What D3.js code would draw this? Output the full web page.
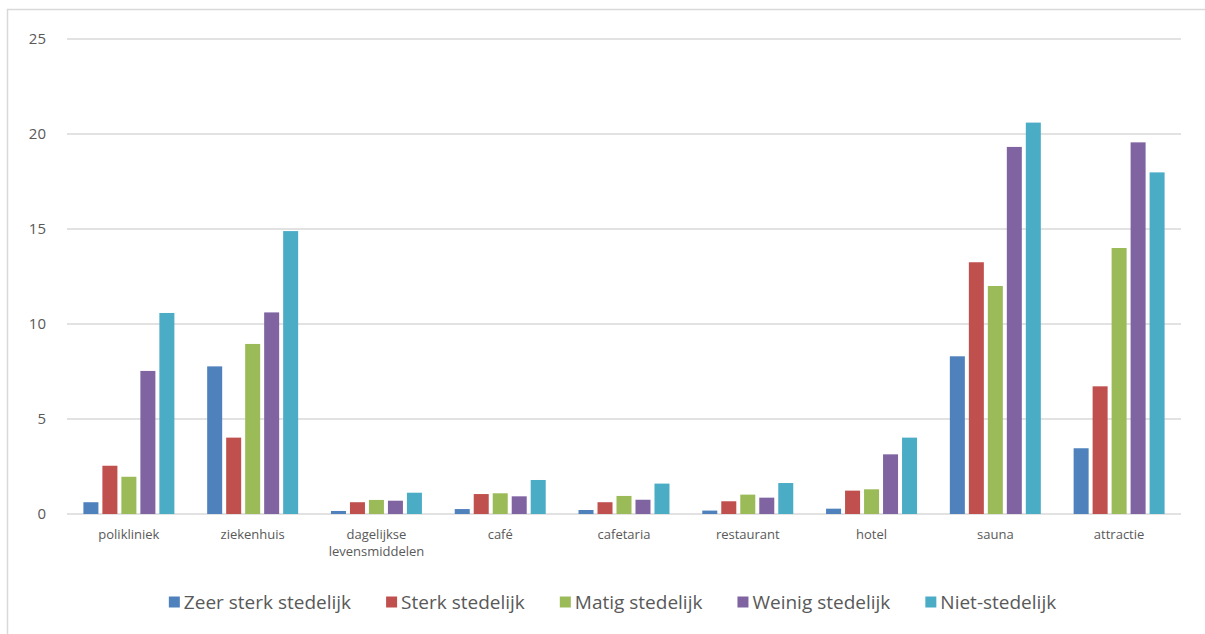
<!DOCTYPE html>
<html>
<head>
<meta charset="utf-8">
<script src="https://cdn.jsdelivr.net/npm/d3@7"></script>
<style>
  body { margin: 0; background: #fff; }
  svg { display: block; }
</style>
</head>
<body>
<svg id="chart" width="1205" height="634"></svg>
<script>
// categories and series
var categories = ["polikliniek", "ziekenhuis", "dagelijkse levensmiddelen", "café", "cafetaria", "restaurant", "hotel", "sauna", "attractie"];
var seriesNames = ["Zeer sterk stedelijk", "Sterk stedelijk", "Matig stedelijk", "Weinig stedelijk", "Niet-stedelijk"];
var zeerSterk = [0.62, 7.77, 0.16, 0.26, 0.21, 0.18, 0.28, 8.3, 3.46];
var sterk     = [2.54, 4.02, 0.62, 1.05, 0.62, 0.67, 1.23, 13.25, 6.72];
var matig     = [1.96, 8.95, 0.74, 1.09, 0.95, 1.02, 1.3, 12.0, 14.0];
var weinig    = [7.53, 10.61, 0.7, 0.93, 0.75, 0.86, 3.14, 19.32, 19.56];
var niet      = [10.58, 14.89, 1.12, 1.79, 1.6, 1.63, 4.02, 20.6, 17.98];
var yTicks = [0, 5, 10, 15, 20, 25];
var colors = ["#4F81BD", "#C0504D", "#9BBB59", "#8064A2", "#4BACC6"];

var values = [zeerSterk, sterk, matig, weinig, niet];

var svg = d3.select("#chart");
var plotLeft = 67, plotRight = 1181, plotTop = 39, plotBottom = 514;

// outer chart frame (runs off the right and bottom edge like the reference)
svg.append("rect")
   .attr("x", 7.5).attr("y", 9.5)
   .attr("width", 1220).attr("height", 650)
   .attr("fill", "none")
   .attr("stroke", "#d9d9d9")
   .attr("stroke-width", 1.5);

var x0 = d3.scaleBand()
           .domain(categories)
           .range([plotLeft, plotRight])
           .paddingInner(0.265)
           .paddingOuter(0.1325);

var x1 = d3.scaleBand()
           .domain(d3.range(seriesNames.length))
           .range([0, x0.bandwidth()])
           .paddingInner(0.21);

var y = d3.scaleLinear().domain([0, 25]).range([plotBottom, plotTop]);

// gridlines
svg.append("g").selectAll("line")
   .data(yTicks)
   .enter().append("line")
   .attr("x1", plotLeft).attr("x2", plotRight)
   .attr("y1", function(d){ return y(d); })
   .attr("y2", function(d){ return y(d); })
   .attr("stroke", "#d9d9d9")
   .attr("stroke-width", 1.3);

// y tick labels
svg.append("g").selectAll("text")
   .data(yTicks)
   .enter().append("text")
   .attr("x", 46)
   .attr("y", function(d){ return y(d); })
   .attr("dy", "0.35em")
   .attr("text-anchor", "end")
   .attr("font-family", "'Open Sans', sans-serif")
   .attr("font-size", "15px")
   .attr("fill", "#595959")
   .text(function(d){ return d; });

// bars
var groups = svg.append("g").selectAll("g")
   .data(categories)
   .enter().append("g")
   .attr("transform", function(d){ return "translate(" + x0(d) + ",0)"; });

groups.selectAll("rect")
   .data(function(d, i){ return values.map(function(s, k){ return {k: k, v: s[i]}; }); })
   .enter().append("rect")
   .attr("x", function(d){ return x1(d.k); })
   .attr("width", x1.bandwidth())
   .attr("y", function(d){ return y(d.v); })
   .attr("height", function(d){ return plotBottom - y(d.v); })
   .attr("fill", function(d){ return colors[d.k]; });

// category labels (wrap the long one into two lines)
var catLabels = svg.append("g").selectAll("text")
   .data(categories)
   .enter().append("text")
   .attr("x", function(d){ return x0(d) + x0.bandwidth() / 2; })
   .attr("y", 539)
   .attr("text-anchor", "middle")
   .attr("font-family", "'Open Sans', sans-serif")
   .attr("font-size", "13px")
   .attr("fill", "#595959");

catLabels.each(function(d){
   var words = d === "dagelijkse levensmiddelen" ? ["dagelijkse", "levensmiddelen"] : [d];
   var t = d3.select(this);
   words.forEach(function(w, i){
      t.append("tspan")
       .attr("x", x0(d) + x0.bandwidth() / 2)
       .attr("dy", i === 0 ? 0 : 17)
       .text(w);
   });
});

// legend
var legend = svg.append("g");
var lx = 0;
seriesNames.forEach(function(name, k){
   var item = legend.append("g").attr("transform", "translate(" + lx + ",0)");
   item.append("rect")
       .attr("x", 0).attr("y", -5.5)
       .attr("width", 11).attr("height", 11)
       .attr("fill", colors[k]);
   var t = item.append("text")
       .attr("x", 15)
       .attr("dy", "0.35em")
       .attr("font-family", "'Open Sans', sans-serif")
       .attr("font-size", "19px")
       .attr("fill", "#595959")
       .text(name);
   lx += 15 + t.node().getComputedTextLength() + 35;
});
var legendWidth = lx - 35;
legend.attr("transform", "translate(" + (612.5 - legendWidth / 2) + ",602)");
</script>
</body>
</html>
